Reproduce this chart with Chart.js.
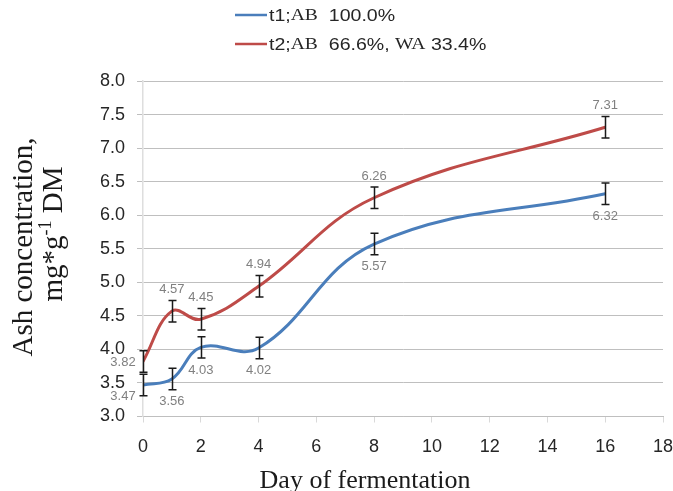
<!DOCTYPE html>
<html>
<head>
<meta charset="utf-8">
<script src="https://cdn.jsdelivr.net/npm/chart.js@4"></script>
<style>
  html, body { margin: 0; padding: 0; background: #ffffff; }
  canvas { display: block; }
</style>
</head>
<body>
<canvas id="chart" width="673" height="491"></canvas>
<script>
// Ash concentration during fermentation, two treatments
const days = [0, 1, 2, 4, 8, 16];
const t1Ash = [3.47, 3.56, 4.03, 4.02, 5.57, 6.32];
const t2Ash = [3.82, 4.57, 4.45, 4.94, 6.26, 7.31];
const t1Err = [0.16, 0.16, 0.16, 0.16, 0.16, 0.16];
const t2Err = [0.16, 0.16, 0.16, 0.16, 0.16, 0.16];
const seriesLabels = ['t1;AB  100.0%', 't2;AB  66.6%, WA 33.4%'];
const seriesColors = ['#4a7ebb', '#be4b48'];
const xTicks = [0, 2, 4, 6, 8, 10, 12, 14, 16, 18];
const yTicks = [3.0, 3.5, 4.0, 4.5, 5.0, 5.5, 6.0, 6.5, 7.0, 7.5, 8.0];
const xTitle = 'Day of fermentation';
const yTitleLine1 = 'Ash concentration,';
const yTitleLine2 = ['mg*g', '-1', ' DM']; // base, superscript, base

const SANS = '"Liberation Sans", Arial, sans-serif';
const SERIF = '"Liberation Serif", "Times New Roman", serif';

const toPoints = (ys) => days.map((d, i) => ({ x: d, y: ys[i] }));

// Vertical error bars with caps, plus value labels
const errorBarsPlugin = {
  id: 'errorBars',
  afterDatasetsDraw(chart) {
    const ctx = chart.ctx;
    const xs = chart.scales.x, ys = chart.scales.y;
    const errs = [t1Err, t2Err];
    const vals = [t1Ash, t2Ash];
    ctx.save();
    ctx.strokeStyle = '#1a1a1a';
    ctx.lineWidth = 1.5;
    vals.forEach((arr, s) => {
      arr.forEach((v, i) => {
        const px = Math.round(xs.getPixelForValue(days[i])) + 0.5;
        const top = ys.getPixelForValue(v + errs[s][i]);
        const bot = ys.getPixelForValue(v - errs[s][i]);
        ctx.beginPath();
        ctx.moveTo(px, top); ctx.lineTo(px, bot);
        ctx.moveTo(px - 4, top); ctx.lineTo(px + 4, top);
        ctx.moveTo(px - 4, bot); ctx.lineTo(px + 4, bot);
        ctx.stroke();
      });
    });
    // value labels
    ctx.fillStyle = '#808080';
    ctx.font = '13px ' + SANS;
    ctx.textAlign = 'center';
    ctx.textBaseline = 'middle';
    vals.forEach((arr, s) => {
      arr.forEach((v, i) => {
        const px = xs.getPixelForValue(days[i]);
        const py = ys.getPixelForValue(v);
        const top = ys.getPixelForValue(v + errs[s][i]);
        const bot = ys.getPixelForValue(v - errs[s][i]);
        const txt = v.toFixed(2);
        let lx = px, ly;
        if (i === 0) {
          lx = px - 20;
          ly = s === 0 ? py + 11 : py + 1;
        } else if (s === 0) {
          ly = bot + 12;
        } else {
          ly = top - 11;
        }
        ctx.fillText(txt, lx, ly);
      });
    });
    ctx.restore();
  }
};

// Legend and axis titles; capitals in the legend use the serif face
const annotationsPlugin = {
  id: 'annotations',
  afterDraw(chart) {
    const ctx = chart.ctx;
    ctx.save();
    // legend
    const legendY = [15, 44];
    seriesLabels.forEach((label, s) => {
      const y = legendY[s];
      ctx.strokeStyle = seriesColors[s];
      ctx.lineWidth = 2.5;
      ctx.beginPath();
      ctx.moveTo(235, y); ctx.lineTo(267, y);
      ctx.stroke();
      ctx.fillStyle = '#262626';
      ctx.textAlign = 'left';
      ctx.textBaseline = 'middle';
      ctx.save();
      ctx.translate(269, y + 1);
      ctx.scale(1.15, 1); // wide legend lettering
      let x = 0;
      label.split(/([A-Z]+)/).forEach((part) => {
        if (!part) return;
        ctx.font = (/^[A-Z]+$/.test(part) ? '17px ' + SERIF : '17px ' + SANS);
        ctx.fillText(part, x, 0);
        x += ctx.measureText(part).width;
      });
      ctx.restore();
    });
    // x title
    ctx.fillStyle = '#1a1a1a';
    ctx.font = '26px ' + SERIF;
    ctx.textAlign = 'center';
    ctx.textBaseline = 'alphabetic';
    ctx.fillText(xTitle, 365, 488);
    // y title (two rotated lines)
    ctx.save();
    ctx.translate(32, 247);
    ctx.rotate(-Math.PI / 2);
    ctx.font = '29px ' + SERIF;
    ctx.textAlign = 'center';
    ctx.fillText(yTitleLine1, 0, 0);
    ctx.restore();
    ctx.save();
    ctx.translate(62, 234);
    ctx.rotate(-Math.PI / 2);
    const baseFont = '29px ' + SERIF, supFont = '18px ' + SERIF;
    ctx.font = baseFont; const w0 = ctx.measureText(yTitleLine2[0]).width;
    ctx.font = supFont; const w1 = ctx.measureText(yTitleLine2[1]).width;
    ctx.font = baseFont; const w2 = ctx.measureText(yTitleLine2[2]).width;
    const x0 = -(w0 + w1 + w2) / 2;
    ctx.textAlign = 'left';
    ctx.font = baseFont; ctx.fillText(yTitleLine2[0], x0, 0);
    ctx.font = supFont; ctx.fillText(yTitleLine2[1], x0 + w0, -11);
    ctx.font = baseFont; ctx.fillText(yTitleLine2[2], x0 + w0 + w1, 0);
    ctx.restore();
    ctx.restore();
  }
};

new Chart(document.getElementById('chart'), {
  type: 'line',
  data: {
    datasets: [
      {
        label: seriesLabels[0],
        data: toPoints(t1Ash),
        borderColor: seriesColors[0],
        borderWidth: 3,
        pointRadius: 0,
        tension: 0.4,
        fill: false
      },
      {
        label: seriesLabels[1],
        data: toPoints(t2Ash),
        borderColor: seriesColors[1],
        borderWidth: 3,
        pointRadius: 0,
        tension: 0.4,
        fill: false
      }
    ]
  },
  options: {
    responsive: false,
    animation: false,
    devicePixelRatio: 1,
    layout: { padding: { left: 0, right: 10, top: 81, bottom: 0 } },
    plugins: {
      legend: { display: false },
      tooltip: { enabled: false }
    },
    scales: {
      x: {
        type: 'linear',
        min: xTicks[0],
        max: xTicks[xTicks.length - 1],
        afterBuildTicks(scale) { scale.ticks = xTicks.map(v => ({ value: v })); },
        afterFit(scale) {
          scale.height = 74.5;
          scale.paddingLeft = 0;
          scale.paddingRight = 0;
        },
        grid: { drawOnChartArea: false, drawTicks: true, tickLength: 6, tickColor: '#d9d9d9' },
        border: { display: true, color: '#bfbfbf', width: 1 },
        ticks: {
          color: '#262626',
          font: { family: SANS, size: 18 },
          padding: 14,
          maxRotation: 0,
          callback: (v) => String(v)
        }
      },
      y: {
        type: 'linear',
        min: yTicks[0],
        max: yTicks[yTicks.length - 1],
        afterBuildTicks(scale) { scale.ticks = yTicks.map(v => ({ value: v })); },
        afterFit(scale) {
          scale.width = 143;
          scale.paddingTop = 0;
          scale.paddingBottom = 0;
        },
        grid: { color: '#bfbfbf', lineWidth: 1, tickLength: 6, tickColor: '#bfbfbf' },
        border: { display: true, color: '#dedede', width: 1.5 },
        ticks: {
          color: '#262626',
          font: { family: SANS, size: 18 },
          padding: 12,
          callback: (v) => Number(v).toFixed(1)
        }
      }
    }
  },
  plugins: [errorBarsPlugin, annotationsPlugin]
});
</script>
</body>
</html>
